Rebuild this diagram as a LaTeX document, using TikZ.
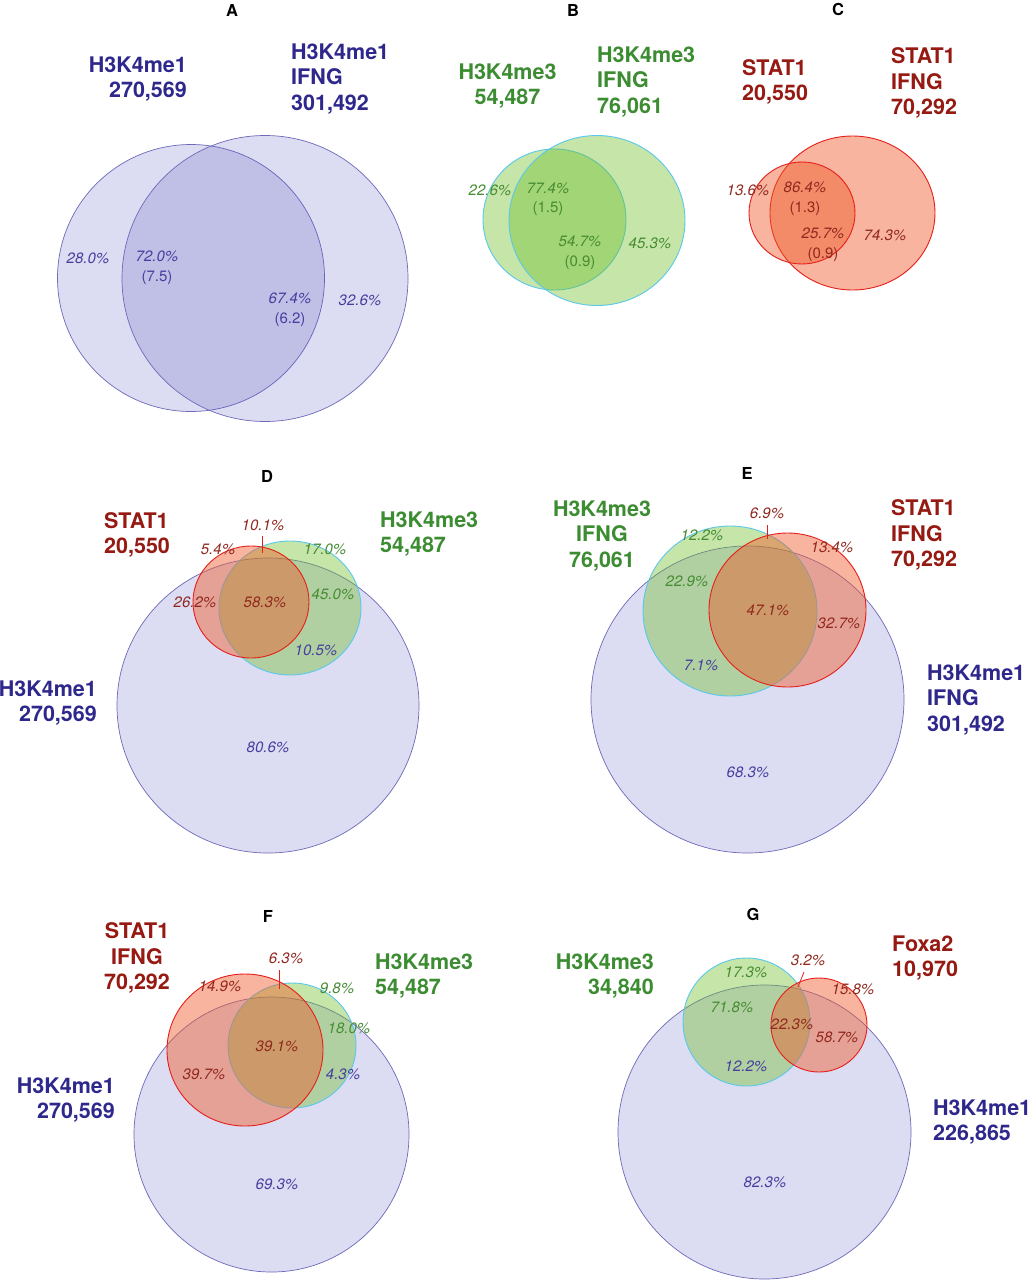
\documentclass[tikz,border=0pt]{standalone}
\usepackage{fontspec}
\setmainfont{TeX Gyre Heros}
\definecolor{ptxt}{RGB}{46,40,140}
\definecolor{gtxt}{RGB}{60,140,50}
\definecolor{rtxt}{RGB}{150,25,18}
\definecolor{ppct}{RGB}{70,62,158}
\definecolor{gpct}{RGB}{70,140,50}
\definecolor{rpct}{RGB}{145,40,30}
\definecolor{pstroke}{RGB}{110,105,185}
\definecolor{gstroke}{RGB}{90,200,235}
\definecolor{rstroke}{RGB}{230,30,25}
\definecolor{pfill}{RGB}{80,80,190}
\definecolor{gfill}{RGB}{110,190,40}
\definecolor{rfill}{RGB}{240,90,40}
\newcommand\labfont{\fontsize{21.5}{25.5}\selectfont\bfseries}
\newcommand\pctfont{\fontsize{15}{19.5}\selectfont\itshape}
\newcommand\panfont{\fontsize{16.5}{18}\selectfont\bfseries}
\tikzset{
  lab/.style={font=\labfont, inner sep=0pt},
  pct/.style={font=\pctfont, inner sep=0pt, align=center},
  pan/.style={font=\panfont, inner sep=0pt},
  pset/.style={draw=pstroke, fill=pfill, fill opacity=0.2, line width=0.7pt},
  gset/.style={draw=gstroke, fill=gfill, fill opacity=0.4, line width=0.9pt},
  rset/.style={draw=rstroke, fill=rfill, fill opacity=0.45, line width=0.9pt},
  tick/.style={draw=rstroke, line width=0.8pt}
}
\begin{document}
\begin{tikzpicture}[x=1pt,y=-1pt]
\useasboundingbox (0,0) rectangle (1036,1280);
\fill[white] (0,0) rectangle (1036,1280);

% ---------------- Panel A
\node[pan] (tA) at (232,10) {A};
\draw[pset] (191,278) circle [radius=133.5pt];
\draw[pset] (265,278.5) circle [radius=143pt];
\node[lab, ptxt, align=right, anchor=east] (A1) at (187,79) {H3K4me1\\270,569};
\node[lab, ptxt, align=left, anchor=west] (A2) at (291,79) {H3K4me1\\IFNG\\301,492};
\node[pct, ppct] (A28) at (88,258) {28.0\%};
\node[pct, ppct] (A72) at (157,268) {72.0\%\\\upshape(7.5)};
\node[pct, ppct] (A67) at (290,310) {67.4\%\\\upshape(6.2)};
\node[pct, ppct] (A32) at (360,300) {32.6\%};

% ---------------- Panel B
\node[pan] (tB) at (573,10) {B};
\draw[gset] (554.5,219.5) ellipse [x radius=71.5pt, y radius=70.5pt];
\draw[gset] (597,220.5) ellipse [x radius=88pt, y radius=85pt];
\node[lab, gtxt, align=center] (B1) at (507.5,86) {H3K4me3\\54,487};
\node[lab, gtxt, align=left, anchor=west] (B2) at (597,82) {H3K4me3\\IFNG\\76,061};
\node[pct, gpct] (B22) at (490,190) {22.6\%};
\node[pct, gpct] (B77) at (548,199.5) {77.4\%\\\upshape(1.5)};
\node[pct, gpct] (B54) at (580,253) {54.7\%\\\upshape(0.9)};
\node[pct, gpct] (B45) at (650,243) {45.3\%};

% ---------------- Panel C
\node[pan] (tC) at (838,9) {C};
\draw[rset] (852.5,213) ellipse [x radius=82.5pt, y radius=77pt];
\draw[rset] (802,213) ellipse [x radius=53pt, y radius=51pt];
\node[lab, rtxt, align=left, anchor=west] (C1) at (742,82) {STAT1\\20,550};
\node[lab, rtxt, align=left, anchor=west] (C2) at (891,83) {STAT1\\IFNG\\70,292};
\node[pct, rpct] (C13) at (748,190) {13.6\%};
\node[pct, rpct] (C86) at (805,199) {86.4\%\\\upshape(1.3)};
\node[pct, rpct] (C25) at (823,245) {25.7\%\\\upshape(0.9)};
\node[pct, rpct] (C74) at (885,235) {74.3\%};

% ---------------- Panel D
\node[pan] (tD) at (267,476) {D};
\draw[pset] (268,705.5) ellipse [x radius=151pt, y radius=147.5pt];
\draw[gset] (290,608) ellipse [x radius=71pt, y radius=67pt];
\draw[rset] (251,602) ellipse [x radius=58pt, y radius=56pt];
\node[lab, rtxt, align=left, anchor=west] (D1) at (104,535) {STAT1\\20,550};
\node[lab, gtxt, align=left, anchor=west] (D2) at (380,534) {H3K4me3\\54,487};
\node[lab, ptxt, align=right, anchor=east] (D3) at (97,703) {H3K4me1\\270,569};
\node[pct, rpct] (D101) at (263,525) {10.1\%};
\coordinate (D101a) at (262,536);
\coordinate (D101b) at (262,553);
\draw[tick] (D101a) -- (D101b);
\node[pct, rpct] (D54) at (218,549) {5.4\%};
\node[pct, gpct] (D17) at (325,549) {17.0\%};
\node[pct, rpct] (D26) at (195,602) {26.2\%};
\node[pct, rpct] (D58) at (265,602) {58.3\%};
\node[pct, gpct] (D45) at (333,594) {45.0\%};
\node[pct, ppct] (D105) at (316,650) {10.5\%};
\node[pct, ppct] (D80) at (268,747) {80.6\%};

% ---------------- Panel E
\node[pan] (tE) at (747,473) {E};
\draw[pset] (747.5,699.5) ellipse [x radius=156.5pt, y radius=153.5pt];
\draw[gset] (730,611) ellipse [x radius=87pt, y radius=85pt];
\draw[rset] (787.5,610) ellipse [x radius=78.5pt, y radius=77pt];
\node[lab, gtxt, align=center] (E1) at (602,536) {H3K4me3\\IFNG\\76,061};
\node[lab, rtxt, align=left, anchor=west] (E2) at (891,535) {STAT1\\IFNG\\70,292};
\node[lab, ptxt, align=left, anchor=west] (E3) at (927,700) {H3K4me1\\IFNG\\301,492};
\node[pct, rpct] (E69) at (767,513) {6.9\%};
\coordinate (E69a) at (767,525);
\coordinate (E69b) at (767,539);
\draw[tick] (E69a) -- (E69b);
\node[pct, gpct] (E12) at (702,535) {12.2\%};
\node[pct, rpct] (E13) at (832,547) {13.4\%};
\node[pct, gpct] (E22) at (687,581) {22.9\%};
\node[pct, rpct] (E47) at (768,610) {47.1\%};
\node[pct, rpct] (E32) at (839,623) {32.7\%};
\node[pct, ppct] (E7) at (701,665) {7.1\%};
\node[pct, ppct] (E68) at (748,772) {68.3\%};

% ---------------- Panel F
\node[pan] (tF) at (268,916) {F};
\draw[pset] (271.5,1134.5) circle [radius=137.5pt];
\draw[gset] (292,1045.5) ellipse [x radius=64pt, y radius=62.5pt];
\draw[rset] (245,1050) ellipse [x radius=78pt, y radius=76pt];
\node[lab, rtxt, align=center] (F1) at (137,958) {STAT1\\IFNG\\70,292};
\node[lab, gtxt, align=left, anchor=west] (F2) at (375,976) {H3K4me3\\54,487};
\node[lab, ptxt, align=right, anchor=east] (F3) at (115,1100) {H3K4me1\\270,569};
\node[pct, rpct] (F63) at (286,958) {6.3\%};
\coordinate (F63a) at (279,970);
\coordinate (F63b) at (279,989);
\draw[tick] (F63a) -- (F63b);
\node[pct, rpct] (F14) at (220,986) {14.9\%};
\node[pct, gpct] (F98) at (337,988) {9.8\%};
\node[pct, gpct] (F18) at (349,1028) {18.0\%};
\node[pct, rpct] (F39a) at (277,1046) {39.1\%};
\node[pct, rpct] (F39b) at (204,1074) {39.7\%};
\node[pct, ppct] (F43) at (343,1074) {4.3\%};
\node[pct, ppct] (F69) at (277,1184) {69.3\%};

% ---------------- Panel G
\node[pan] (tG) at (753,914) {G};
\draw[pset] (764.5,1132) ellipse [x radius=146.5pt, y radius=147pt];
\draw[gset] (746.5,1022) ellipse [x radius=63.5pt, y radius=64pt];
\draw[rset] (819,1025) ellipse [x radius=48pt, y radius=47pt];
\node[lab, gtxt, align=right, anchor=east] (G1) at (654,976) {H3K4me3\\34,840};
\node[lab, rtxt, align=left, anchor=west] (G2) at (892,958) {Foxa2\\10,970};
\node[lab, ptxt, align=left, anchor=west] (G3) at (933,1122) {H3K4me1\\226,865};
\node[pct, rpct] (G32) at (808,960) {3.2\%};
\coordinate (G32a) at (804,972);
\coordinate (G32b) at (798,987);
\draw[tick] (G32a) -- (G32b);
\node[pct, gpct] (G17) at (746,972) {17.3\%};
\node[pct, rpct] (G15) at (853,989) {15.8\%};
\node[pct, gpct] (G71) at (732,1007) {71.8\%};
\node[pct, rpct] (G22) at (792,1024) {22.3\%};
\node[pct, rpct] (G58) at (837,1037) {58.7\%};
\node[pct, ppct] (G12) at (746,1066) {12.2\%};
\node[pct, ppct] (G82) at (765,1182) {82.3\%};
\end{tikzpicture}
\end{document}
